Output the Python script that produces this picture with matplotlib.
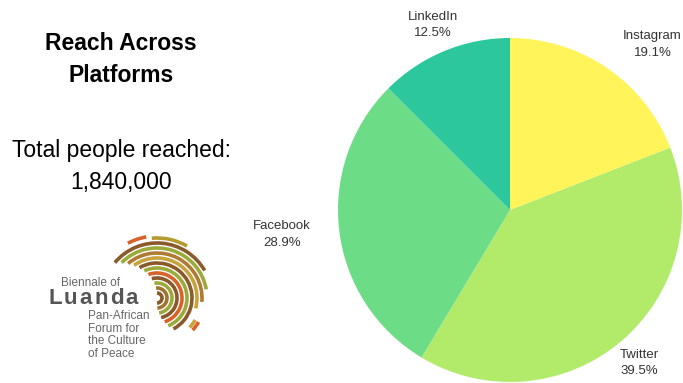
import matplotlib
matplotlib.use("Agg")
import numpy as np
import matplotlib.pyplot as plt
from matplotlib.patches import Arc

platforms = ["Instagram", "Twitter", "Facebook", "LinkedIn"]
shares = [19.1, 39.5, 28.9, 12.5]
colors = ["#FFF459", "#B2EB6A", "#6DDC87", "#2DC79E"]

title = "Reach Across\nPlatforms"
total_label = "Total people reached:"
total_value = "1,840,000"

W, H = 683, 383
plt.rcParams["font.family"] = ["Liberation Sans", "DejaVu Sans"]

fig = plt.figure(figsize=(W / 100, H / 100), dpi=100)
fig.patch.set_facecolor("white")

# overlay axes in pixel coordinates (y up)
bg = fig.add_axes([0, 0, 1, 1])
bg.set_xlim(0, W)
bg.set_ylim(0, H)
bg.axis("off")

bg.text(121, H - 60, title, ha="center", va="center", fontsize=16.5,
        fontweight="bold", linespacing=1.5, color="black")
bg.text(121, H - 151, total_label, ha="center", va="center", fontsize=16.5, color="black")
bg.text(121, H - 183, total_value, ha="center", va="center", fontsize=16.5, color="black")

# rough logo: concentric arcs + text
cx, cy = 157, H - 298
arcs = [
    (5, -90, 90, "#8B5A2B"),
    (10, -88, 95, "#A0742E"),
    (15, -82, 100, "#9BAA3A"),
    (20, -78, 105, "#8B5A2B"),
    (25, -72, 110, "#D9622B"),
    (30, -68, 115, "#9BAA3A"),
    (35, -62, 120, "#8B5A2B"),
    (40, -15, 125, "#C8A23A"),
    (45, -5, 130, "#B07A35"),
    (50, 10, 135, "#9BAA3A"),
    (55, 30, 140, "#8B5A2B"),
]
for r, t1, t2, c in arcs:
    bg.add_patch(Arc((cx, cy), 2 * r, 2 * r, theta1=t1, theta2=t2,
                     color=c, lw=2.6))
bg.add_patch(Arc((cx, cy), 120, 120, theta1=60, theta2=95, color="#B59A2F", lw=2.6))
bg.add_patch(Arc((cx, cy), 124, 124, theta1=100, theta2=118, color="#D9622B", lw=2.6))
bg.add_patch(Arc((cx, cy), 96, 96, theta1=-42, theta2=-30, color="#D9622B", lw=2.6))
bg.add_patch(Arc((cx, cy), 88, 88, theta1=-42, theta2=-30, color="#C8A23A", lw=2.6))

bg.text(61, H - 283, "Biennale of", ha="left", va="center", fontsize=8.5, color="#666666")
for i, ch in enumerate("Luanda"):
    bg.text(48 + i * 15.5, H - 298, ch, ha="left", va="center", fontsize=16,
            fontweight="bold", color="#555555")
bg.text(88, H - 335, "Pan-African\nForum for\nthe Culture\nof Peace", ha="left",
        va="center", fontsize=8.5, color="#666666", linespacing=1.05)

# pie
r_px = 172
pc_x, pc_y = 510, H - 210
ax = fig.add_axes([(pc_x - r_px) / W, (pc_y - r_px) / H, 2 * r_px / W, 2 * r_px / H])
wedges, _ = ax.pie(shares, colors=colors, startangle=90, counterclock=False)
label_ha = ["left", "center", "right", "center"]
for w, p, s, ha in zip(wedges, platforms, shares, label_ha):
    ang = np.deg2rad((w.theta1 + w.theta2) / 2)
    ax.text(1.165 * np.cos(ang), 1.165 * np.sin(ang), f"{p}\n{s}%", ha=ha, va="center",
            fontsize=9.5, color="#333333", linespacing=1.5, multialignment="center")
ax.set_xlim(-1, 1)
ax.set_ylim(-1, 1)
ax.set_aspect("equal")
ax.axis("off")

fig.savefig("out.png", dpi=100)
